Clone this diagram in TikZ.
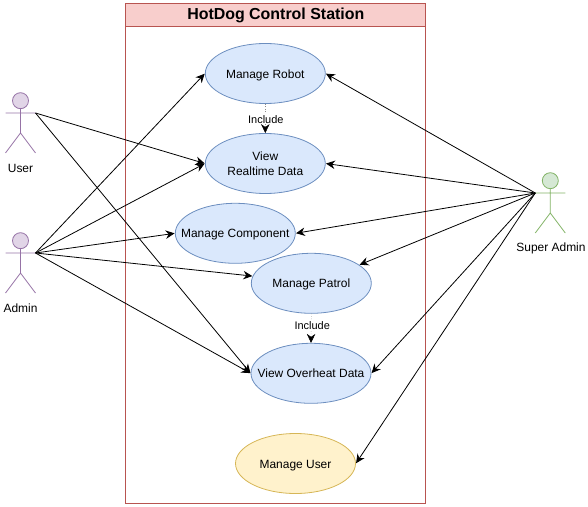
\documentclass[tikz,border=0pt]{standalone}
\usepackage{fontspec}
\setmainfont{Liberation Sans}
\usetikzlibrary{shapes.geometric,arrows.meta}
\definecolor{bfill}{HTML}{DAE8FC}\definecolor{bdraw}{HTML}{6C8EBF}
\definecolor{rfill}{HTML}{F8CECC}\definecolor{rdraw}{HTML}{B85450}
\definecolor{pfill}{HTML}{E1D5E7}\definecolor{pdraw}{HTML}{9673A6}
\definecolor{gfill}{HTML}{D5E8D4}\definecolor{gdraw}{HTML}{82B366}
\definecolor{yfill}{HTML}{FFF2CC}\definecolor{ydraw}{HTML}{D6B656}
\newcommand{\ctext}[1]{\makebox[0pt]{\raisebox{-4.6bp}[0pt][0pt]{#1}}}
\tikzset{
  usecase/.style={ellipse,draw=bdraw,fill=bfill,line width=0.8bp,minimum width=120bp,minimum height=60bp,inner sep=0pt,align=center,font=\fontsize{12}{15}\selectfont},
  yellowcase/.style={usecase,draw=ydraw,fill=yfill},
  actorlabel/.style={font=\fontsize{12}{14}\selectfont,inner sep=0pt},
  assoc/.style={draw=black,line width=0.8bp,-{Stealth[length=9bp,width=8.5bp,inset=3bp]},shorten >=0.3pt},
  incl/.style={draw=black!45,line width=0.5bp,dotted,-{Stealth[length=9bp,width=8.5bp,inset=3bp,black]}},
  incllabel/.style={font=\fontsize{11}{13}\selectfont,fill=white,inner sep=1pt},
  pics/actor/.style n args={2}{code={
    \draw[draw=#1,fill=#2,line width=0.8bp] (0,-12.3) circle (8bp);
    \draw[draw=#1,line width=0.8bp] (0,-4.3) -- (0,20) (-15,0) -- (15,0) (-15,40) -- (0,20) -- (15,40);
  }}
}
\begin{document}
\begin{tikzpicture}[x=1bp,y=-1bp]
\useasboundingbox (0,0) rectangle (588,507);
% system boundary
\node[draw=rdraw,line width=1bp,minimum width=300bp,minimum height=500bp,inner sep=0pt,anchor=north west] (sys) at (125.3,3.3) {};
\node[draw=rdraw,fill=rfill,line width=1bp,minimum width=300bp,minimum height=23bp,inner sep=0pt,anchor=north west,font=\bfseries\fontsize{16}{19}\selectfont] (title) at (125.3,3.3) {HotDog Control Station};
% use cases
\node[usecase] (robot) at (265.3,73.5) {\ctext{Manage Robot}};
\node[usecase] (real) at (265.3,163.5) {\ctext{View}\\\ctext{Realtime Data}};
\node[usecase] (comp) at (235.3,233.3) {\ctext{Manage Component}};
\node[usecase] (patrol) at (311.3,283.3) {\ctext{Manage Patrol}};
\node[usecase] (over) at (311,373.3) {\ctext{View Overheat Data}};
\node[yellowcase] (muser) at (295.5,463.5) {\ctext{Manage User}};
% actors
\pic at (20.5,113) {actor={pdraw}{pfill}};
\pic at (20.5,253) {actor={pdraw}{pfill}};
\pic at (550.3,193) {actor={gdraw}{gfill}};
\coordinate (userR) at (35.5,113);
\coordinate (adminR) at (35.5,253);
\coordinate (superL) at (535.3,193);
\node[actorlabel] (userL) at (20.5,168) {User};
\node[actorlabel] (adminL) at (20.5,308) {Admin};
\node[actorlabel] (superLab) at (551,248) {Super Admin};
% connectors
\draw[assoc] (userR) -- (real.west);
\draw[assoc] (userR) -- (over.west);
\draw[assoc] (adminR) -- (robot.west);
\draw[assoc] (adminR) -- (real.west);
\draw[assoc] (adminR) -- (comp.west);
\draw[assoc] (adminR) -- (patrol.173);
\draw[assoc] (adminR) -- (over.west);
\draw[assoc] (superL) -- (robot.east);
\draw[assoc] (superL) -- (real.east);
\draw[assoc] (superL) -- (comp.east);
\draw[assoc] (superL) -- (patrol.21);
\draw[assoc] (superL) -- (over.east);
\draw[assoc] (superL) -- (muser.east);
\draw[incl] (robot.south) -- node[incllabel,pos=.5,xshift=.5bp,yshift=-.7bp] (inc1) {Include} (real.north);
\draw[incl] (patrol.south) -- node[incllabel,pos=.4,xshift=1bp] (inc2) {Include} (over.north);
\end{tikzpicture}
\end{document}
